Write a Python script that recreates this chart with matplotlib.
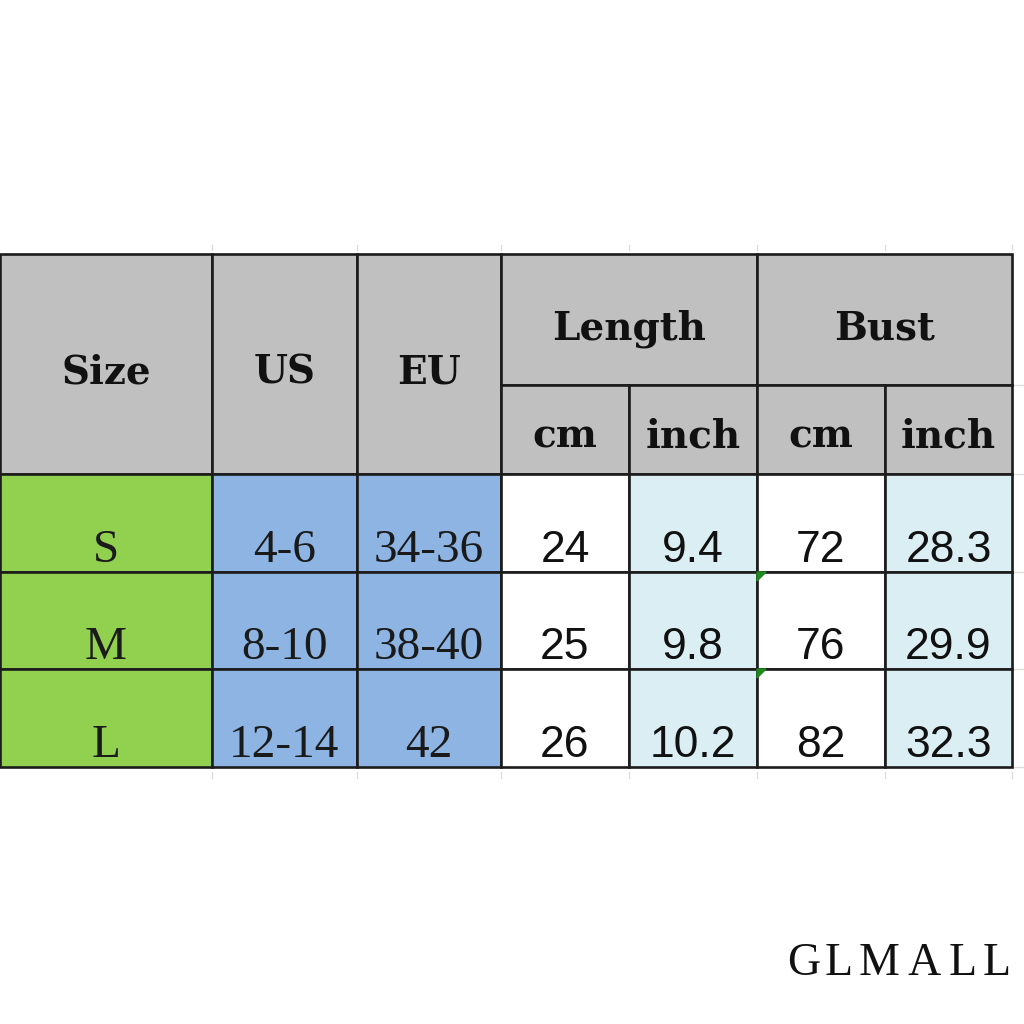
import matplotlib.pyplot as plt
from matplotlib.patches import Rectangle, Polygon

# datos de la tabla
sizes = ["S", "M", "L"]
us_sizes = ["4-6", "8-10", "12-14"]
eu_sizes = ["34-36", "38-40", "42"]
length_cm = [24, 25, 26]
length_inch = [9.4, 9.8, 10.2]
bust_cm = [72, 76, 82]
bust_inch = [28.3, 29.9, 32.3]

top_headers = ["Size", "US", "EU"]
group_headers = ["Length", "Bust"]
unit_headers = ["cm", "inch", "cm", "inch"]
logo = "GLMALL"

# geometria (pixeles)
col_x = [0, 212, 357, 501, 629, 757, 885, 1012]
head_top, head_mid, head_bot = 254, 385, 474
row_y = [474, 572, 669, 767]

GRAY = "#c0c0c0"
GREEN = "#92d050"
BLUE = "#8db4e2"
LIGHT = "#daeef3"
LINE = "#1c1c1c"
HEAD_FONT = dict(family="DejaVu Serif", weight="bold", fontsize=28, color="#111")

fig = plt.figure(figsize=(10.24, 10.24), dpi=100)
ax = fig.add_axes([0, 0, 1, 1])
ax.set_xlim(0, 1024)
ax.set_ylim(1024, 0)
ax.axis("off")


def cell(x0, x1, y0, y1, color):
    ax.add_patch(Rectangle((x0, y0), x1 - x0, y1 - y0, facecolor=color,
                           edgecolor=LINE, linewidth=1.9, zorder=1))


# cabecera
for i, h in enumerate(top_headers):
    cell(col_x[i], col_x[i + 1], head_top, head_bot, GRAY)
    ax.text((col_x[i] + col_x[i + 1]) / 2, 384, h, ha="center", va="baseline", **HEAD_FONT)
for g, h in enumerate(group_headers):
    x0, x1 = col_x[3 + 2 * g], col_x[5 + 2 * g]
    cell(x0, x1, head_top, head_mid, GRAY)
    ax.text((x0 + x1) / 2, 339, h, ha="center", va="baseline", **HEAD_FONT)
for j, h in enumerate(unit_headers):
    x0, x1 = col_x[3 + j], col_x[4 + j]
    cell(x0, x1, head_mid, head_bot, GRAY)
    ax.text((x0 + x1) / 2, 447, h, ha="center", va="baseline", **HEAD_FONT)

# filas
num_cols = [length_cm, length_inch, bust_cm, bust_inch]
num_colors = ["white", LIGHT, "white", LIGHT]
for r in range(len(sizes)):
    y0, y1 = row_y[r], row_y[r + 1]
    base = y1 - 10
    for c, (vals, col) in enumerate([(sizes, GREEN), (us_sizes, BLUE), (eu_sizes, BLUE)]):
        cell(col_x[c], col_x[c + 1], y0, y1, col)
        ax.text((col_x[c] + col_x[c + 1]) / 2, base, vals[r], family="Liberation Serif",
                fontsize=34, ha="center", va="baseline", color="#1a1a1a")
    for j, vals in enumerate(num_cols):
        x0, x1 = col_x[3 + j], col_x[4 + j]
        cell(x0, x1, y0, y1, num_colors[j])
        ax.text((x0 + x1) / 2, base, str(vals[r]), family="Liberation Sans",
                fontsize=32, ha="center", va="baseline", color="#111")

# triangulos verdes de comentario
for y in row_y[1:3]:
    ax.add_patch(Polygon([(col_x[5], y), (col_x[5] + 9, y), (col_x[5], y + 9)],
                         closed=True, color="#1e8a1e", zorder=3))

# restos de cuadricula
for y in [head_mid, head_bot] + row_y[1:]:
    ax.plot([1013, 1024], [y, y], color="#dddddd", lw=1, zorder=0)
for x in col_x[1:]:
    ax.plot([x, x], [245, 250], color="#dddddd", lw=1, zorder=0)
    ax.plot([x, x], [772, 778], color="#dddddd", lw=1, zorder=0)

# logo
lx = 787
for ch in logo:
    ax.text(lx, 975, ch, family="Liberation Serif", fontsize=33,
            ha="left", va="baseline", color="#111")
    lx += {"G": 38, "L": 34, "M": 48, "A": 42}[ch]

fig.savefig("out.png", dpi=100)
